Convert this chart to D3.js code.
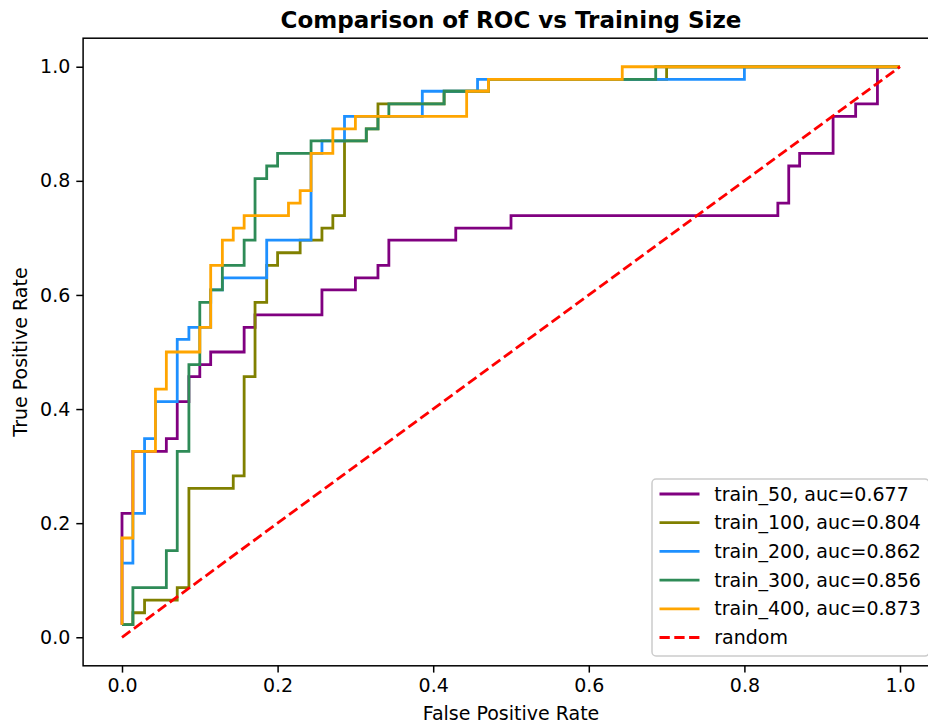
<!DOCTYPE html>
<html>
<head>
<meta charset="utf-8">
<script src="https://cdn.jsdelivr.net/npm/d3@7"></script>
<style>
  body { margin: 0; background: #fff; }
  svg { display: block; font-family: "DejaVu Sans", sans-serif; }
</style>
</head>
<body>
<div id="chart"></div>
<script>
// ROC points (fpr, tpr)
var fpr50 = [0, 0, 0.014, 0.014, 0.057, 0.057, 0.071, 0.071, 0.086, 0.086, 0.1, 0.1, 0.114, 0.114, 0.157, 0.157, 0.171, 0.171, 0.257, 0.257, 0.3, 0.3, 0.329, 0.329, 0.343, 0.343, 0.429, 0.429, 0.5, 0.5, 0.843, 0.843, 0.857, 0.857, 0.871, 0.871, 0.914, 0.914, 0.943, 0.943, 0.971, 0.971, 1]
var tpr50 = [0.022, 0.217, 0.217, 0.326, 0.326, 0.348, 0.348, 0.413, 0.413, 0.457, 0.457, 0.478, 0.478, 0.5, 0.5, 0.543, 0.543, 0.565, 0.565, 0.609, 0.609, 0.63, 0.63, 0.652, 0.652, 0.696, 0.696, 0.717, 0.717, 0.739, 0.739, 0.761, 0.761, 0.826, 0.826, 0.848, 0.848, 0.913, 0.913, 0.935, 0.935, 1, 1]

var fpr100 = [0, 0.014, 0.014, 0.029, 0.029, 0.071, 0.071, 0.086, 0.086, 0.143, 0.143, 0.157, 0.157, 0.171, 0.171, 0.186, 0.186, 0.2, 0.2, 0.229, 0.229, 0.257, 0.257, 0.271, 0.271, 0.286, 0.286, 0.314, 0.314, 0.329, 0.329, 0.343, 0.414, 0.414, 0.471, 0.471, 0.7, 0.7, 1]
var tpr100 = [0.022, 0.022, 0.043, 0.043, 0.065, 0.065, 0.087, 0.087, 0.261, 0.261, 0.283, 0.283, 0.457, 0.457, 0.587, 0.587, 0.652, 0.652, 0.674, 0.674, 0.696, 0.696, 0.717, 0.717, 0.739, 0.739, 0.87, 0.87, 0.891, 0.891, 0.935, 0.935, 0.935, 0.957, 0.957, 0.978, 0.978, 1, 1]

var fpr200 = [0, 0.014, 0.014, 0.029, 0.029, 0.043, 0.043, 0.071, 0.071, 0.086, 0.086, 0.1, 0.114, 0.114, 0.129, 0.129, 0.186, 0.186, 0.243, 0.243, 0.257, 0.257, 0.286, 0.286, 0.386, 0.386, 0.457, 0.457, 0.8, 0.8, 1]
var tpr200 = [0.13, 0.13, 0.217, 0.217, 0.348, 0.348, 0.413, 0.413, 0.522, 0.522, 0.543, 0.543, 0.543, 0.609, 0.609, 0.63, 0.63, 0.696, 0.696, 0.848, 0.848, 0.87, 0.87, 0.913, 0.913, 0.957, 0.957, 0.978, 0.978, 1, 1]

var fpr300 = [0, 0.014, 0.014, 0.057, 0.057, 0.071, 0.071, 0.086, 0.086, 0.1, 0.1, 0.114, 0.114, 0.129, 0.129, 0.157, 0.157, 0.171, 0.171, 0.186, 0.186, 0.2, 0.2, 0.243, 0.243, 0.314, 0.314, 0.329, 0.329, 0.343, 0.343, 0.414, 0.414, 0.471, 0.471, 0.686, 0.686, 1]
var tpr300 = [0.022, 0.022, 0.087, 0.087, 0.152, 0.152, 0.326, 0.326, 0.478, 0.478, 0.587, 0.587, 0.609, 0.609, 0.652, 0.652, 0.696, 0.696, 0.804, 0.804, 0.826, 0.826, 0.848, 0.848, 0.87, 0.87, 0.891, 0.891, 0.913, 0.913, 0.935, 0.935, 0.957, 0.957, 0.978, 0.978, 1, 1]

var fpr400 = [0, 0, 0.014, 0.014, 0.043, 0.043, 0.057, 0.057, 0.1, 0.1, 0.114, 0.114, 0.129, 0.129, 0.143, 0.143, 0.157, 0.157, 0.214, 0.214, 0.229, 0.229, 0.243, 0.243, 0.271, 0.271, 0.3, 0.3, 0.443, 0.443, 0.471, 0.471, 0.643, 0.643, 1]
var tpr400 = [0.022, 0.174, 0.174, 0.326, 0.326, 0.435, 0.435, 0.5, 0.5, 0.543, 0.543, 0.652, 0.652, 0.696, 0.696, 0.717, 0.717, 0.739, 0.739, 0.761, 0.761, 0.783, 0.783, 0.848, 0.848, 0.891, 0.891, 0.913, 0.913, 0.957, 0.957, 0.978, 0.978, 1, 1]

var randomX = [0, 1]
var randomY = [0, 1]

var seriesNames = ["train_50", "train_100", "train_200", "train_300", "train_400"]
var aucValues = [0.677, 0.804, 0.862, 0.856, 0.873]
var seriesColors = ["#800080", "#808000", "#1e90ff", "#2e8b57", "#ffa500"]
var tickValues = [0, 0.2, 0.4, 0.6, 0.8, 1.0]

var width = 928
var height = 725

// axes box (matplotlib pads 5% on each side); note: "top" is reserved on window
var boxL = 83.1, boxR = 938.9, boxT = 38.2, boxB = 665.8

var x = d3.scaleLinear().domain([-0.05, 1.05]).range([boxL, boxR])
var y = d3.scaleLinear().domain([-0.05, 1.05]).range([boxB, boxT])

var svg = d3.select("#chart").append("svg")
  .attr("width", width)
  .attr("height", height)

// title
svg.append("text")
  .attr("x", (boxL + boxR) / 2)
  .attr("y", 28)
  .attr("text-anchor", "middle")
  .style("font-size", "23px")
  .style("font-weight", "bold")
  .text("Comparison of ROC vs Training Size")

// axes
var xAxis = svg.append("g")
  .attr("transform", "translate(0," + boxB + ")")
  .call(d3.axisBottom(x).tickValues(tickValues).tickFormat(d3.format(".1f"))
    .tickSizeOuter(0).tickSize(6.8).tickPadding(6))
var yAxis = svg.append("g")
  .attr("transform", "translate(" + boxL + ",0)")
  .call(d3.axisLeft(y).tickValues(tickValues).tickFormat(d3.format(".1f"))
    .tickSizeOuter(0).tickSize(6.8).tickPadding(6))

var axes = [xAxis, yAxis]
axes.forEach(function (g) {
  g.select(".domain").remove()
  g.selectAll(".tick line").attr("stroke", "#000").attr("stroke-width", 1.5)
  g.selectAll(".tick text")
    .style("font-size", "19px")
    .style("font-family", "DejaVu Sans")
    .attr("fill", "#000")
})

svg.append("text")
  .attr("x", (boxL + boxR) / 2)
  .attr("y", 720)
  .attr("text-anchor", "middle")
  .style("font-size", "19px")
  .text("False Positive Rate")

svg.append("text")
  .attr("transform", "translate(27," + ((boxT + boxB) / 2) + ")rotate(-90)")
  .attr("text-anchor", "middle")
  .style("font-size", "19px")
  .text("True Positive Rate")

// curves
var line = d3.line()
  .x(function (d) { return x(d[0]) })
  .y(function (d) { return y(d[1]) })

var allFpr = [fpr50, fpr100, fpr200, fpr300, fpr400]
var allTpr = [tpr50, tpr100, tpr200, tpr300, tpr400]

allFpr.forEach(function (fpr, k) {
  var pts = fpr.map(function (v, i) { return [v, allTpr[k][i]] })
  svg.append("path")
    .datum(pts)
    .attr("d", line)
    .attr("fill", "none")
    .attr("stroke", seriesColors[k])
    .attr("stroke-width", 2.8)
    .attr("stroke-linejoin", "miter")
})

svg.append("path")
  .datum(randomX.map(function (v, i) { return [v, randomY[i]] }))
  .attr("d", line)
  .attr("fill", "none")
  .attr("stroke", "#ff0000")
  .attr("stroke-width", 2.8)
  .attr("stroke-dasharray", "10.3,4.5")

// frame
svg.append("rect")
  .attr("x", boxL)
  .attr("y", boxT)
  .attr("width", boxR - boxL)
  .attr("height", boxB - boxT)
  .attr("fill", "none")
  .attr("stroke", "#000")
  .attr("stroke-width", 1.5)

// legend
var legendItems = seriesNames.map(function (n, k) {
  return { label: n + ", auc=" + aucValues[k], color: seriesColors[k], dash: null }
})
legendItems.push({ label: "random", color: "#ff0000", dash: "10.3,4.5" })

var lg = svg.append("g")
lg.append("rect")
  .attr("x", 652)
  .attr("y", 479)
  .attr("width", 277)
  .attr("height", 177)
  .attr("rx", 4)
  .attr("fill", "#fff")
  .attr("fill-opacity", 0.8)
  .attr("stroke", "#cccccc")
  .attr("stroke-width", 1.5)

legendItems.forEach(function (d, k) {
  var yy = 494 + k * 28.7
  lg.append("line")
    .attr("x1", 659.5).attr("x2", 699.5)
    .attr("y1", yy).attr("y2", yy)
    .attr("stroke", d.color)
    .attr("stroke-width", 2.8)
    .attr("stroke-dasharray", d.dash)
  lg.append("text")
    .attr("x", 714.3)
    .attr("y", yy)
    .attr("dy", "0.35em")
    .style("font-size", "19px")
    .attr("fill", "#000")
    .text(d.label)
})
</script>
</body>
</html>
